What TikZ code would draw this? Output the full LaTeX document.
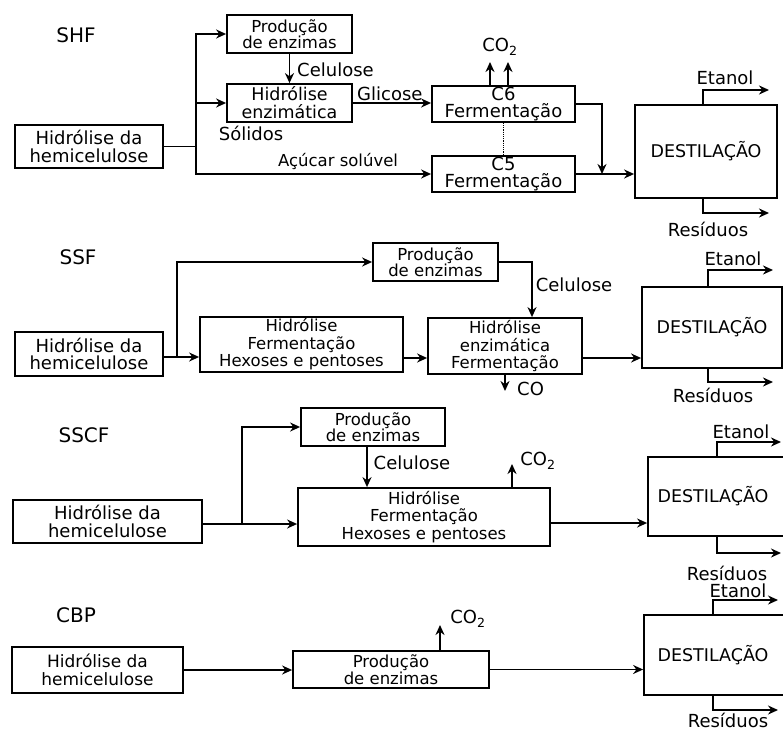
\documentclass[tikz,border=0pt]{standalone}
\usepackage{fontspec}
\setmainfont{DejaVu Sans}
\usetikzlibrary{arrows.meta}
\newcommand\fsz[2]{\fontsize{#1}{#2}\selectfont}
\begin{document}
\begin{tikzpicture}[x=1pt,y=-1pt,
  box/.style={draw, line width=1.8pt, inner sep=0pt, align=center, font={\fsz{18}{17.5}}},
  bigbox/.style={box, font={\fsz{17.5}{18}}},
  smallbox/.style={box, font={\fsz{16.5}{16.5}}},
  tribox/.style={box, font={\fsz{16.5}{17.5}}},
  dest/.style={box, font={\fsz{17.5}{18}}},
  lbl/.style={inner sep=0pt, font={\fsz{18}{18}}},
  ttl/.style={inner sep=0pt, font={\fsz{20}{20}}},
  arr/.style={line width=1.8pt, -{Stealth[length=10pt,width=9pt]}},
  ln/.style={line width=1.8pt},
  dotline/.style={line width=1.2pt, dash pattern=on 1.2pt off 1pt}]
\useasboundingbox (0,0) rectangle (783,730);
\clip (0,0) rectangle (783,730);

% ---------------- SHF ----------------
\node[ttl] (t1) at (76,35) {SHF};
\node[box, minimum width=148pt, minimum height=43pt] (h1) at (89,146.5) {Hidrólise da\\hemicelulose};
\node[smallbox, minimum width=125pt, minimum height=38pt] (p1) at (289.5,34) {Produção\\de enzimas};
\node[bigbox, minimum width=125pt, minimum height=38pt] (he1) at (289.5,103) {Hidrólise\\enzimática};
\node[box, minimum width=143pt, minimum height=36pt] (c6) at (503.5,104) {C6\\Fermentação};
\node[box, minimum width=143pt, minimum height=36pt] (c5) at (503.5,174) {C5\\Fermentação};
\node[dest, minimum width=142pt, minimum height=93pt] (d1) at (706,151.5) {DESTILAÇÃO};

\node[lbl, anchor=west] (cel1) at (297,70) {Celulose};
\node[lbl] (sol1) at (251,133) {Sólidos};
\node[lbl, anchor=west] (gli1) at (357,94) {Glicose};
\node[lbl, font={\fsz{16.5}{16.5}}] (acu1) at (338,161) {Açúcar solúvel};
\node[lbl] (co1) at (500,47) {CO\textsubscript{2}};
\node[lbl] (et1) at (725,78) {Etanol};
\node[lbl] (re1) at (708,229) {Resíduos};

\coordinate (s1) at (196,146.5);
\draw[ln] (h1.east) -- (s1);
\draw[arr] (s1) |- (p1.west);
\draw[arr] (s1) |- (he1.west);
\draw[arr] (s1) |- (c5.west);
\draw[arr] (p1) -- (he1);
\draw[arr] (he1.east) -- (he1.east -| c6.west);
\coordinate (ca) at (490,62);
\coordinate (cb) at (508,62);
\draw[arr] (c6.north -| ca) -- (ca);
\draw[arr] (c6.north -| cb) -- (cb);
\coordinate (m1) at (602,174);
\draw[arr] (c6.east) -| (m1);
\draw[arr] (c5.east) -- (c5.east -| d1.west);
\draw[dotline] (c6.south) -- (c5.north);
\coordinate (e1) at (769,90);
\coordinate (r1) at (769,213);
\draw[arr] ([xshift=-3pt]d1.north) |- (e1);
\draw[arr] ([xshift=-3pt]d1.south) |- (r1);

% ---------------- SSF ----------------
\node[ttl] (t2) at (78,257) {SSF};
\node[box, minimum width=148pt, minimum height=44pt] (h2) at (89,354) {Hidrólise da\\hemicelulose};
\node[tribox, minimum width=203pt, minimum height=55pt] (hf2) at (301.5,344.5) {Hidrólise\\Fermentação\\Hexoses e pentoses};
\node[smallbox, minimum width=125pt, minimum height=38pt] (p2) at (435.5,262) {Produção\\de enzimas};
\node[tribox, minimum width=154pt, minimum height=56pt] (he2) at (505,346) {Hidrólise\\enzimática\\Fermentação};
\node[dest, minimum width=140pt, minimum height=81pt] (d2) at (712,327.5) {DESTILAÇÃO};

\coordinate (s2) at (177,357);
\draw[ln] (h2.east |- s2) -- (s2);
\draw[arr] (s2) -- (s2 -| hf2.west);
\draw[arr] (s2) |- (p2.west);
\coordinate (y2) at (0,358);
\draw[arr] (hf2.east |- y2) -- (he2.west |- y2);
\coordinate (k2) at (532,262);
\draw[arr] (p2.east) -| (k2 |- he2.north);
\node[lbl] (cel2) at (574,285) {Celulose};
\coordinate (cos2) at (505,391);
\draw[arr] (he2.south -| cos2) -- (cos2);
\node[lbl, anchor=west] (cot2) at (517,389) {CO};
\draw[arr] (he2.east |- y2) -- (d2.west |- y2);
\coordinate (e2) at (773,270);
\coordinate (r2) at (773,382);
\draw[arr] ([xshift=-4pt]d2.north) |- (e2);
\draw[arr] ([xshift=-4pt]d2.south) |- (r2);
\node[lbl] (et2) at (733,259) {Etanol};
\node[lbl] (re2) at (713,395) {Resíduos};

% ---------------- SSCF ----------------
\node[ttl] (t3) at (84,435) {SSCF};
\node[box, minimum width=189pt, minimum height=43pt] (h3) at (107.5,521.5) {Hidrólise da\\hemicelulose};
\node[smallbox, minimum width=144pt, minimum height=38pt] (p3) at (373,427) {Produção\\de enzimas};
\node[tribox, minimum width=252pt, minimum height=58pt] (b3) at (424,517) {Hidrólise\\Fermentação\\Hexoses e pentoses};
\node[dest, minimum width=150pt, minimum height=79pt,
  label={[dest,draw=none,name=dt3,xshift=-10pt]center:DESTILAÇÃO}] (d3) at (723,496.5) {};

\coordinate (s3) at (242,524);
\draw[ln] (h3.east |- s3) -- (s3);
\draw[arr] (s3) -- (s3 -| b3.west);
\draw[arr] (s3) |- (p3.west);
\coordinate (k3) at (367,0);
\draw[arr] (p3.south -| k3) -- (b3.north -| k3);
\node[lbl] (cel3) at (412,463) {Celulose};
\coordinate (co3) at (512,464);
\draw[arr] (b3.north -| co3) -- (co3);
\node[lbl] (cot3) at (538,461) {CO\textsubscript{2}};
\coordinate (y3) at (0,523);
\draw[arr] (b3.east |- y3) -- (d3.west |- y3);
\coordinate (ex3) at (717,0);
\coordinate (e3) at (781,442);
\coordinate (r3) at (781,553);
\draw[arr] (d3.north -| ex3) |- (e3);
\draw[arr] (d3.south -| ex3) |- (r3);
\node[lbl] (et3) at (741,432) {Etanol};
\node[lbl] (re3) at (727,573) {Resíduos};

% ---------------- CBP ----------------
\node[ttl] (t4) at (76,615) {CBP};
\node[box, line width=2.2pt, font={\fsz{17}{17.5}}, minimum width=171pt, minimum height=46pt] (h4) at (97.5,670) {Hidrólise da\\hemicelulose};
\node[smallbox, minimum width=196pt, minimum height=37pt] (p4) at (391,669.5) {Produção\\de enzimas};
\node[dest, minimum width=150pt, minimum height=80pt,
  label={[dest,draw=none,name=dt4,xshift=-6pt]center:DESTILAÇÃO}] (d4) at (719,655) {};

\draw[arr] (h4.east) -- (h4.east -| p4.west);
\coordinate (co4) at (440,625);
\draw[arr] (p4.north -| co4) -- (co4);
\node[lbl] (cot4) at (468,619) {CO\textsubscript{2}};
\draw[arr] (p4.east) -- (p4.east -| d4.west);
\coordinate (ex4) at (713,0);
\coordinate (e4) at (778,600);
\coordinate (r4) at (778,710);
\draw[arr] (d4.north -| ex4) |- (e4);
\draw[arr] (d4.south -| ex4) |- (r4);
\node[lbl] (et4) at (738,591) {Etanol};
\node[lbl] (re4) at (728,720) {Resíduos};
\end{tikzpicture}
\end{document}
